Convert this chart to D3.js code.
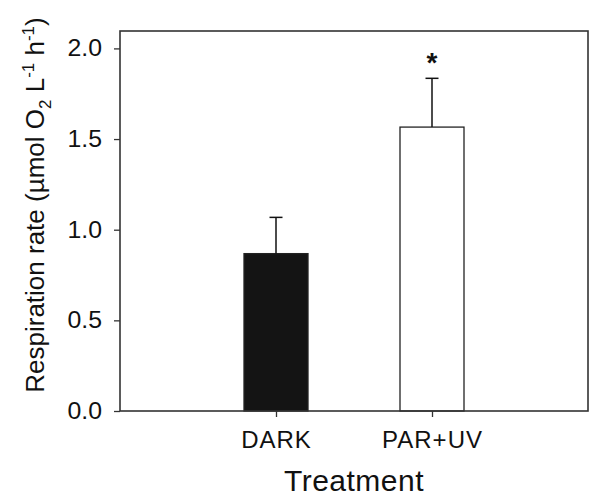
<!DOCTYPE html>
<html>
<head>
<meta charset="utf-8">
<script src="https://cdn.jsdelivr.net/npm/d3@7"></script>
<style>
  body { margin: 0; background: #fff; }
  text { font-family: "Liberation Sans", Arial, sans-serif; fill: #111; }
</style>
</head>
<body>
<div id="chart"></div>
<script>
let width = 602;
let height = 501;

// data
const treatments = ["DARK", "PAR+UV"];
const means = [0.868, 1.566];
const errTop = [1.068, 1.835];
const marks = ["", "*"];
const yTicks = [0.0, 0.5, 1.0, 1.5, 2.0];
const fills = ["#141414", "#ffffff"];

const margin = {top: 31, right: 14, bottom: 90, left: 120};
const iw = width - margin.left - margin.right;
const ih = height - margin.top - margin.bottom;

const svg = d3.select("#chart").append("svg")
    .attr("width", width)
    .attr("height", height);

const g = svg.append("g")
    .attr("transform", `translate(${margin.left},${margin.top})`);

const x = d3.scalePoint()
    .domain(["", ...treatments, " "])
    .range([0, iw]);

const y = d3.scaleLinear()
    .domain([0, 2.096])
    .range([ih, 0]);

const barW = 64;

// bars
g.selectAll(".bar")
  .data(treatments)
  .join("rect")
    .attr("class", "bar")
    .attr("x", d => x(d) - barW / 2)
    .attr("y", (d, i) => y(means[i]))
    .attr("width", barW)
    .attr("height", (d, i) => y(0) - y(means[i]))
    .attr("fill", (d, i) => fills[i])
    .attr("stroke", "#222")
    .attr("stroke-width", 1.3);

// error bars (upper only)
g.selectAll(".err")
  .data(treatments)
  .join("line")
    .attr("x1", d => x(d)).attr("x2", d => x(d))
    .attr("y1", (d, i) => y(means[i]))
    .attr("y2", (d, i) => y(errTop[i]))
    .attr("stroke", "#111")
    .attr("stroke-width", 1.5);

g.selectAll(".cap")
  .data(treatments)
  .join("line")
    .attr("x1", d => x(d) - 6.5).attr("x2", d => x(d) + 6.5)
    .attr("y1", (d, i) => y(errTop[i]))
    .attr("y2", (d, i) => y(errTop[i]))
    .attr("stroke", "#111")
    .attr("stroke-width", 1.5);

g.selectAll(".sig")
  .data(treatments)
  .join("text")
    .attr("x", d => x(d))
    .attr("y", (d, i) => y(errTop[i]) - 6)
    .attr("text-anchor", "middle")
    .style("font-size", "28px")
    .style("font-weight", "bold")
    .text((d, i) => marks[i]);

// frame
g.append("rect")
    .attr("width", iw)
    .attr("height", ih)
    .attr("fill", "none")
    .attr("stroke", "#333")
    .attr("stroke-width", 1.6);

// axes
const yAxis = g.append("g")
    .call(d3.axisLeft(y).tickValues(yTicks).tickFormat(d3.format(".1f")).tickSize(6).tickPadding(12));
yAxis.select(".domain").remove();
yAxis.selectAll("line").attr("stroke", "#333").attr("stroke-width", 1.3);
yAxis.selectAll("text").style("font-size", "23px").attr("fill", "#111")
    .attr("transform", "scale(1.08,1)")
    .attr("x", -18 / 1.08);

const xAxis = g.append("g")
    .attr("transform", `translate(0,${ih})`)
    .call(d3.axisBottom(x).tickValues(treatments).tickSize(6).tickPadding(14));
xAxis.select(".domain").remove();
xAxis.selectAll("line").attr("stroke", "#333").attr("stroke-width", 1.3);
xAxis.selectAll("text").style("font-size", "24px").attr("fill", "#111")
    .style("letter-spacing", "1px");

// axis titles
svg.append("text")
    .attr("x", margin.left + iw / 3 + 78)
    .attr("y", 491)
    .attr("text-anchor", "middle")
    .style("font-size", "30px")
    .style("letter-spacing", "0.5px")
    .text("Treatment");

const yl = svg.append("text")
    .attr("transform", `translate(44,${205}) rotate(-90)`)
    .attr("text-anchor", "middle")
    .style("font-size", "26px");
yl.append("tspan").text("Respiration rate (µmol O");
yl.append("tspan").attr("dy", 7).style("font-size", "17px").text("2");
yl.append("tspan").attr("dy", -7).text(" L");
yl.append("tspan").attr("dy", -10).style("font-size", "17px").text("-1");
yl.append("tspan").attr("dy", 10).text(" h");
yl.append("tspan").attr("dy", -10).style("font-size", "17px").text("-1");
yl.append("tspan").attr("dy", 10).text(")");
</script>
</body>
</html>
